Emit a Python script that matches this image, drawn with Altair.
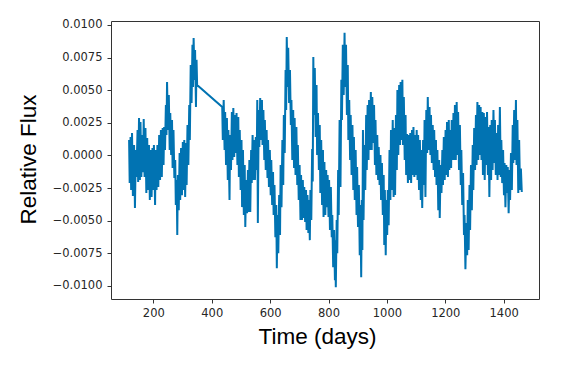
import altair as alt
import pandas as pd

# Segment A (before the data gap), time in days, flux in units of 1e-4
time_a = [117,119,122,124,127,130,134,137,140,142,
          146,148,151,154,156,159,162,165,167,170,
          173,176,179,182,185,188,190,194,197,199,
          202,206,208,211,214,217,220,223,226,229,
          232,235,237,240,243,245,247,250,253,256,
          258,261,264,266,269,272,275,277,280,282,
          284,287,290,292,295,298,301,303,306,309,
          312,314,317,320,323,325,328,331,334,336,
          338,341,343,346,348,350]
flux_a = [11.8,-21.2,14.1,-26.5,17.2,-31.1,8.0,-40.3,4.1,-16.6,
          19.5,-20.4,28.7,-18.9,25.6,-16.6,15.6,-12.8,27.9,-16.6,
          21.0,-28.8,13.3,-26.5,8.0,-34.2,4.1,-31.9,5.7,-26.5,
          8.0,-38.0,4.1,-26.5,8.0,-24.2,15.6,-18.9,19.5,-16.6,
          21.0,-7.4,21.8,4.1,38.7,15.6,56.3,19.5,46.3,4.1,
          32.5,0.3,27.1,-9.7,19.5,-17.3,-3.5,-38.0,-18.9,-61.0,
          -15.0,-41.9,1.8,-34.2,5.7,-30.4,10.3,-26.5,11.8,-31.9,
          9.5,-22.7,23.3,-7.4,38.7,11.8,69.3,40.2,84.7,52.5,
          90.0,57.9,80.8,37.1,73.2,54.0]

# Segment B (after the gap)
time_b = [436,438,441,444,446,449,452,455,457,461,
          463,466,469,471,474,477,480,482,485,488,
          491,493,496,499,502,504,507,510,513,515,
          518,521,524,526,529,532,535,537,540,543,
          545,548,551,554,556,558,561,563,566,569,
          572,574,577,580,582,585,588,591,593,596,
          599,602,604,607,610,612,615,618,621,623,
          625,628,631,634,636,639,642,645,647,650,
          653,655,657,660,662,665,668,671,673,676,
          679,682,684,687,690,693,695,698,701,704,
          706,709,712,715,717,720,723,725,728,731,
          733,736,738,741,744,746,748,750,753,756,
          759,761,764,767,770,772,775,778,781,783,
          786,789,792,794,797,800,802,805,808,811,
          813,816,819,822,823,825,828,830,833,835,
          838,841,844,846,849,852,855,857,860,863,
          866,868,871,874,876,879,882,885,887,890,
          893,896,898,901,904,907,909,912,914,916,
          918,920,923,926,929,931,934,937,939,942,
          945,948,950,953,956,959,961,964,967,970,
          972,975,978,980,983,986,989,991,993,996,
          998,1001,1003,1006,1009,1012,1014,1017,1020,1023,
          1025,1028,1031,1034,1036,1039,1042,1045,1047,1050,
          1053,1055,1058,1061,1064,1066,1069,1072,1075,1077,
          1080,1083,1086,1088,1091,1094,1097,1099,1102,1105,
          1107,1110,1113,1116,1118,1121,1124,1127,1129,1132,
          1135,1138,1140,1143,1146,1149,1151,1154,1157,1160,
          1162,1165,1168,1170,1173,1176,1179,1181,1184,1187,
          1190,1192,1195,1198,1201,1203,1206,1209,1212,1214,
          1217,1220,1222,1225,1228,1231,1233,1236,1239,1242,
          1244,1247,1250,1253,1255,1258,1261,1264,1266,1269,
          1272,1275,1277,1280,1283,1285,1288,1291,1294,1296,
          1299,1302,1305,1307,1310,1313,1316,1318,1321,1324,
          1327,1329,1332,1335,1338,1340,1343,1346,1348,1351,
          1354,1357,1359,1362,1365,1368,1370,1373,1376,1379,
          1381,1384,1387,1390,1392,1395,1398,1401,1403,1406,
          1409,1411,1414,1417,1420,1422,1425,1428,1431,1433,
          1436,1439,1442,1444,1447,1450,1453,1456,1459,1462]
flux_b = [37.1,11.8,42.5,4.1,33.3,-7.4,28.7,-18.9,19.5,-34.2,
          15.6,-11.2,33.3,-3.5,36.4,-1.2,31.0,1.8,32.5,-7.4,
          29.4,-16.6,19.5,-26.5,11.8,-39.6,4.1,-45.7,-7.4,-54.9,
          -18.9,-44.2,-11.2,-43.4,-3.5,-43.4,4.1,-21.2,15.6,-18.9,
          11.8,-18.9,14.1,-11.2,42.5,-51.8,34.8,6.4,44.0,11.8,
          42.5,8.0,34.8,-3.5,27.1,-11.2,19.5,-17.3,11.8,-24.2,
          4.1,-30.4,-3.5,-38.0,-12.8,-45.7,-22.7,-62.6,-38.0,-86.4,
          -45.7,-74.9,-30.4,-61.0,-7.4,-39.6,11.8,-22.7,31.0,1.8,
          65.5,34.8,90.8,52.5,82.4,40.2,65.5,23.3,42.5,-3.5,
          34.8,-9.7,28.7,-15.0,21.8,-22.7,8.0,-34.2,-7.4,-49.5,
          -15.0,-49.5,-18.9,-48.0,-24.2,-51.0,-26.5,-57.1,-30.4,-59.5,
          -34.2,-64.9,-26.5,-49.5,5.0,-20.0,75.5,31.0,67.0,14.1,
          54.0,0.3,32.5,-11.2,23.3,-28.8,11.8,-38.0,4.1,-47.2,
          -5.1,-45.7,-11.2,-39.6,-15.0,-47.2,-18.9,-57.1,-24.2,-62.6,
          -45.7,-85.6,-57.1,-95.6,-64.9,-100.9,-49.5,-74.9,-11.2,-45.7,
          27.1,-24.2,57.9,27.1,84.7,46.3,93.9,52.5,84.7,31.0,
          69.3,11.8,42.5,-3.5,31.0,-15.0,23.3,-26.5,14.1,-34.2,
          4.1,-45.7,-8.9,-54.9,-22.7,-76.4,-38.0,-93.3,-34.2,-72.5,
          19.5,-49.5,8.0,-26.5,31.0,-11.2,38.7,-3.5,42.5,4.1,
          48.6,4.1,44.8,9.5,38.7,-7.4,27.1,-15.0,15.6,-18.9,
          6.4,-22.7,0.3,-34.2,-5.8,-45.7,-15.0,-68.7,-26.5,-76.4,
          -34.2,-61.0,-26.5,-53.4,4.1,-34.2,19.5,-26.5,27.1,-31.9,
          21.0,-30.4,31.0,-11.2,50.2,0.3,54.0,8.0,56.3,11.8,
          57.9,8.0,44.8,-3.5,31.0,-15.0,16.4,-21.2,15.6,-18.9,
          17.2,-21.2,19.5,-15.0,21.8,-16.6,15.6,-15.0,19.5,-18.9,
          15.6,-26.5,11.8,-34.2,4.1,-40.3,11.8,-22.7,27.1,-31.9,
          34.8,1.8,44.8,4.1,37.1,0.3,31.0,-5.8,23.3,-11.2,
          19.5,-16.6,11.8,-22.7,4.1,-41.9,-3.5,-48.0,-7.4,-28.8,
          4.1,-22.7,14.1,-18.9,19.5,-15.0,25.6,-16.6,27.1,-11.2,
          19.5,-9.7,27.1,-3.5,32.5,-3.5,38.7,-3.5,41.0,0.3,
          33.3,-11.2,23.3,-22.7,4.1,-38.0,-13.5,-61.0,-45.7,-87.1,
          -51.8,-76.4,-34.2,-72.5,-22.7,-57.1,-7.4,-41.9,8.0,-26.5,
          21.0,-11.2,31.0,-7.4,41.0,-3.5,38.7,0.3,37.1,-3.5,
          33.3,-15.0,32.5,-18.9,29.4,-7.4,33.3,-15.0,21.8,-31.9,
          23.3,-18.9,27.1,-11.2,34.8,-5.8,27.1,-15.0,17.2,-18.9,
          23.3,-15.0,37.1,-16.6,11.8,-21.2,4.1,-30.4,-5.8,-39.6,
          -7.4,-28.8,-8.9,-44.2,-11.2,-34.2,1.8,-26.5,23.3,-5.8,
          34.8,-3.5,42.5,-7.4,27.1,-28.8,11.8,-26.5,-10.0,-28.0]

x_ticks = [200, 400, 600, 800, 1000, 1200, 1400]
y_ticks = [-0.01, -0.0075, -0.005, -0.0025, 0.0, 0.0025, 0.005, 0.0075, 0.01]

assert len(time_a) == len(flux_a) and len(time_b) == len(flux_b)
time_days = time_a + time_b
flux_vals = [v / 1e4 for v in flux_a + flux_b]
df = pd.DataFrame({"time": time_days, "flux": flux_vals})

chart = alt.Chart(df).mark_line(color="#0173B2", strokeWidth=2.0, clip=True).encode(
    x=alt.X("time:Q",
            scale=alt.Scale(domain=[55, 1521], nice=False, zero=False),
            axis=alt.Axis(values=x_ticks, format="d", title="Time (days)",
                          labelPadding=4, titleX=206, titleY=44,
                          titleAlign="center", titleBaseline="alphabetic")),
    y=alt.Y("flux:Q",
            scale=alt.Scale(domain=[-0.0110, 0.0103], nice=False, zero=False),
            axis=alt.Axis(values=y_ticks, format=".4f", title="Relative Flux",
                          labelPadding=5, titleX=-76, titleY=138, titleAngle=270,
                          titleAlign="center", titleBaseline="alphabetic")),
).properties(
    width=428, height=278,
    autosize=alt.AutoSizeParams(type="none"),
    padding={"left": 103, "top": 13, "right": 17, "bottom": 57},
).configure_axis(
    domain=False, grid=False, tickColor="#333333", tickSize=4,
    labelFont="DejaVu Sans", labelFontSize=11.5, labelColor="#262626",
    titleFont="Liberation Sans", titleFontSize=22.5, titleFontWeight="normal",
    titleColor="#000000",
).configure_view(stroke="#333333", strokeWidth=1)

chart.save("out.html", embed_options={"renderer": "svg", "actions": False})
